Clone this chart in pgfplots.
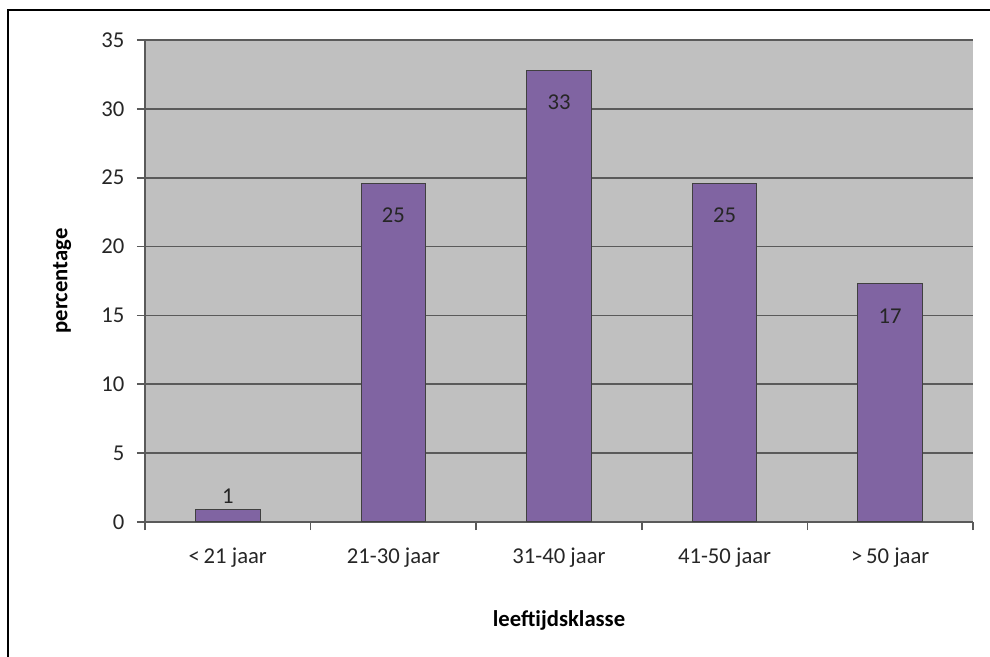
\documentclass[border=0pt]{standalone}
\usepackage{fontspec}
\setmainfont{Carlito}
\usepackage{pgfplots}
\pgfplotsset{compat=1.18}
\definecolor{barpurple}{HTML}{8064A2}
\definecolor{plotgray}{HTML}{C0C0C0}
\definecolor{gridgray}{HTML}{5A5A5A}
\definecolor{txt}{HTML}{262626}
\newcommand{\cf}{\fontsize{17}{20}\selectfont}

\begin{document}
\begin{tikzpicture}[x=0.75pt,y=0.75pt]
\useasboundingbox (0,0) rectangle (990,657);
\draw[line width=1.5pt] (8,-20) -- (8,647) -- (1010,647);
\begin{axis}[
    at={(108.75pt,101.25pt)}, anchor=south west,
    scale only axis, width=621pt, height=361.5pt,
    xmin=-0.5, xmax=4.5, ymin=0, ymax=35,
    axis background/.style={fill=plotgray},
    axis x line*=bottom, axis y line*=left,
    axis line style={gridgray, line width=1.2pt, -},
    xtick={-0.5,0.5,...,4.5},
    x tick label as interval,
    xticklabels={{\char`<\,21 jaar}, 21-30 jaar, 31-40 jaar, 41-50 jaar, {\char`>\,50 jaar}},
    ytick={0,5,...,35},
    tick align=outside, major tick length=6pt,
    every tick/.style={gridgray, line width=1.2pt},
    ymajorgrids,
    grid style={gridgray, line width=1.2pt},
    tick label style={font=\cf, text=txt},
    /pgf/number format/assume math mode=true,
    xticklabel style={yshift=-10pt},
    yticklabel style={xshift=-6pt},
    xlabel={\bfseries leeftijdsklasse},
    ylabel={\bfseries percentage},
    every axis x label/.style={at={(axis description cs:0.5,-0.2033)}, anchor=center, font=\cf},
    every axis y label/.style={at={(axis description cs:-0.1002,0.5)}, anchor=center, rotate=90, font=\cf},
]
\addplot[ybar, bar width=0.39, fill=barpurple, draw=black!75, line width=0.8pt]
  coordinates {(0,0.9) (1,24.6) (2,32.8) (3,24.6) (4,17.3)};
% value labels inside the tall bars
\addplot[draw=none, mark=none, nodes near coords, point meta=explicit symbolic,
  every node near coord/.style={anchor=center, yshift=-24pt, font=\cf, text=txt}]
  coordinates {(1,24.6)[25] (2,32.8)[33] (3,24.6)[25] (4,17.3)[17]};
% label above the small bar
\addplot[draw=none, mark=none, nodes near coords, point meta=explicit symbolic,
  every node near coord/.style={anchor=center, yshift=10pt, font=\cf, text=txt}]
  coordinates {(0,0.9)[1]};
\end{axis}
\end{tikzpicture}
\end{document}
